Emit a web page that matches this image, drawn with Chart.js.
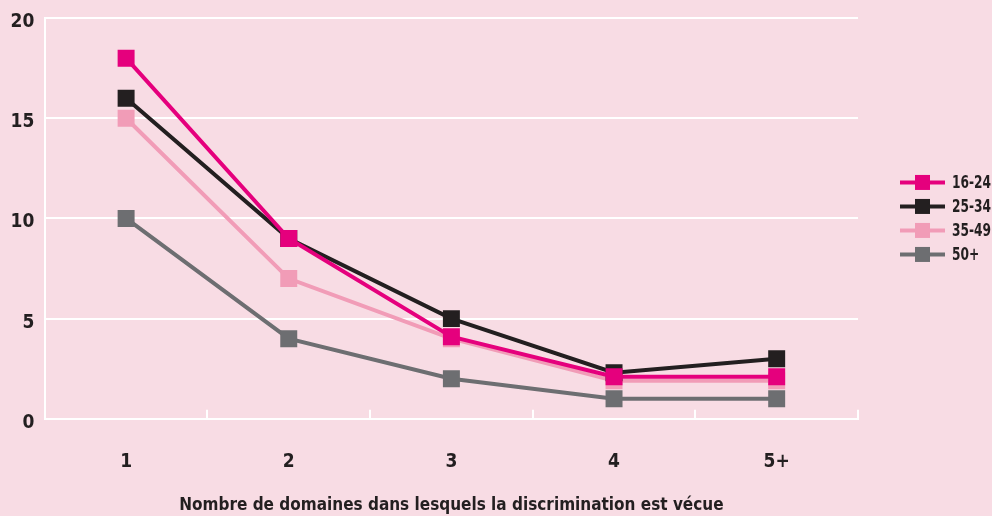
<!DOCTYPE html>
<html lang="fr">
<head>
<meta charset="UTF-8">
<title>Discrimination selon l'âge</title>
<script src="https://cdn.jsdelivr.net/npm/chart.js@4.4.0/dist/chart.umd.min.js"></script>
<style>
  html, body { margin: 0; padding: 0; background: #F8DCE4; }
  .wrap { width: 992px; height: 516px; }
</style>
</head>
<body>
<div class="wrap"><canvas id="chart" width="992" height="516"></canvas></div>
<script>
// données
const categories = ['1', '2', '3', '4', '5+'];
const ageGroups = ['16-24', '25-34', '35-49', '50+'];
const age16_24 = [18, 9, 4.1, 2.1, 2.1];
const age25_34 = [16, 9, 5, 2.3, 3];
const age35_49 = [15, 7, 4, 1.9, 1.9];
const age50plus = [10, 4, 2, 1, 1];
const yTicks = [0, 5, 10, 15, 20];

const colors = ['#E5007D', '#231F20', '#F19CB7', '#6D6E71'];
const series = [age16_24, age25_34, age35_49, age50plus];
const BG = '#F8DCE4';
const TXT = '#231F20';
const FONT = "'DejaVu Sans Condensed', sans-serif";

// fond, petits repères entre catégories, légende ligne + carré
const decor = {
  id: 'decor',
  beforeDraw(chart) {
    const ctx = chart.ctx;
    ctx.save();
    ctx.fillStyle = BG;
    ctx.fillRect(0, 0, chart.width, chart.height);
    ctx.restore();
  },
  beforeDatasetsDraw(chart) {
    const { ctx, chartArea: a } = chart;
    const step = (a.right - a.left) / categories.length;
    ctx.save();
    ctx.strokeStyle = '#fff';
    ctx.lineWidth = 2;
    ctx.beginPath();
    for (let i = 1; i <= categories.length; i++) {
      const px = Math.round(a.left + i * step);
      ctx.moveTo(px, a.bottom);
      ctx.lineTo(px, a.bottom - 9);
    }
    ctx.stroke();
    ctx.restore();
  },
  afterDraw(chart) {
    const { ctx, chartArea: a } = chart;
    const x0 = a.right + 42;
    const rowH = 24;
    const mid = (a.top + a.bottom) / 2;
    const y0 = mid - rowH * (ageGroups.length - 1) / 2;
    ctx.save();
    ctx.font = "bold 17px " + FONT;
    ctx.textBaseline = 'middle';
    ageGroups.forEach((g, i) => {
      const y = y0 + i * rowH;
      ctx.strokeStyle = colors[i];
      ctx.lineWidth = 4;
      ctx.beginPath();
      ctx.moveTo(x0, y);
      ctx.lineTo(x0 + 45, y);
      ctx.stroke();
      ctx.fillStyle = colors[i];
      ctx.fillRect(x0 + 15, y - 7.5, 15, 15);
      // texte étroit, comme la police d'origine
      ctx.save();
      ctx.translate(x0 + 52, y + 1);
      ctx.scale(0.8, 1);
      ctx.fillStyle = TXT;
      ctx.fillText(g, 0, 0);
      ctx.restore();
    });
    ctx.restore();
  }
};

new Chart(document.getElementById('chart'), {
  type: 'line',
  data: {
    labels: categories,
    datasets: ageGroups.map((g, i) => ({
      label: g,
      data: series[i],
      borderColor: colors[i],
      backgroundColor: colors[i],
      borderWidth: 4,
      tension: 0,
      pointStyle: 'rect',
      pointRadius: 12,
      pointHoverRadius: 12,
      pointBorderWidth: 0,
      pointBackgroundColor: colors[i]
    }))
  },
  options: {
    responsive: false,
    animation: false,
    events: [],
    layout: { padding: { top: 0, right: 134, left: 0, bottom: 0 } },
    plugins: {
      legend: { display: false },
      tooltip: { enabled: false }
    },
    scales: {
      x: {
        offset: true,
        grid: { display: true, drawOnChartArea: false, drawTicks: false },
        border: { display: true, color: '#fff', width: 2 },
        ticks: { color: TXT, font: { family: FONT, size: 19, weight: 'bold' }, padding: 32 },
        title: {
          display: true,
          text: 'Nombre de domaines dans lesquels la discrimination est vécue',
          color: TXT,
          font: { family: FONT, size: 17, weight: 'bold' },
          padding: { top: -10, bottom: 0 }
        }
      },
      y: {
        min: 0,
        max: 20,
        afterBuildTicks(scale) { scale.ticks = yTicks.map(v => ({ value: v })); },
        grid: { color: '#fff', lineWidth: 2, drawTicks: false },
        border: { display: true, color: '#fff', width: 2 },
        ticks: { color: TXT, font: { family: FONT, size: 19, weight: 'bold', lineHeight: 0.8 }, padding: 10.5, labelOffset: 4 }
      }
    }
  },
  plugins: [decor]
});
</script>
</body>
</html>
